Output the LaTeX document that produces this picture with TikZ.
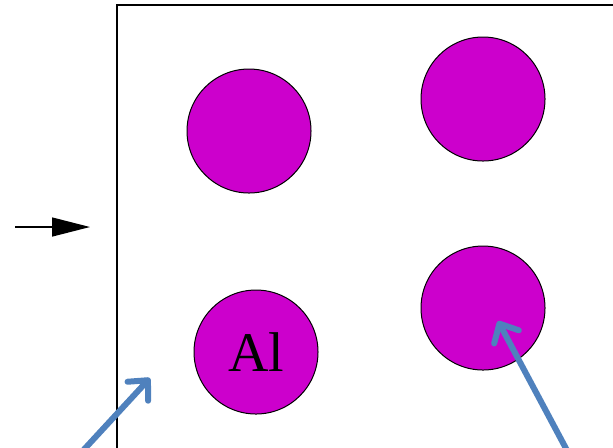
\documentclass[tikz,border=0pt]{standalone}
\usepackage{fontspec}
\setmainfont{Liberation Serif}
\usetikzlibrary{arrows.meta}
\definecolor{atom}{RGB}{204,0,204}
\definecolor{pointer}{RGB}{79,129,189}
\tikzset{
  atom/.style={circle, draw=black, fill=atom, line width=0.5pt, minimum size=62pt, inner sep=0pt, font=\fontsize{28}{30}\selectfont},
  pointer/.style={draw=pointer, line width=3pt, -{Straight Barb[length=7.5pt, width=14pt, round]}}
}
\begin{document}
\begin{tikzpicture}[x=0.5pt, y=-0.5pt]
\clip (0,0) rectangle (613,447);
\draw[line width=0.6pt] (117,460) -- (117,5) -- (620,5);

\node[atom] (a1) at (249,131) {};
\node[atom] (a2) at (483,99) {};
\node[atom] (a3) at (256,352) {Al};
\node[atom] (a4) at (483,308) {};

\draw[-{Triangle[length=19pt, width=9.5pt]}, line width=0.7pt] (15,227) -- (90,227);

\coordinate (p1) at (78,456);
\coordinate (q1) at (150,378);
\coordinate (p2) at (570,456);
\coordinate (q2) at (498,321);
\draw[pointer] (p1) -- (q1);
\draw[pointer] (p2) -- (q2);
\end{tikzpicture}
\end{document}
